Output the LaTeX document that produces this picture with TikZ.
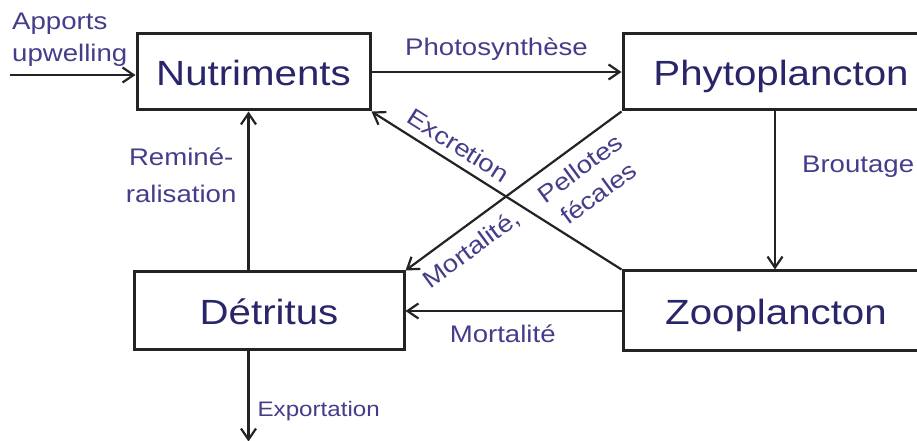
\documentclass[tikz,border=0pt]{standalone}
\usepackage{fontspec}
\setmainfont{Liberation Sans}[FakeStretch=1.15]
\usetikzlibrary{positioning, arrows.meta}
\definecolor{boxtext}{RGB}{40,38,105}
\definecolor{flowtext}{RGB}{68,62,138}
\definecolor{linegray}{RGB}{35,35,35}

\begin{document}
\begin{tikzpicture}[x=1pt, y=1pt,
    box/.style={draw=linegray, line width=3pt, inner sep=0pt, minimum height=76pt,
        text height=27pt, text depth=0pt, text=boxtext, font=\fontsize{35}{42}\selectfont},
    flow/.style={draw=linegray, line width=2.2pt, -{Straight Barb[length=11pt,width=15pt]}},
    flowlabel/.style={text=flowtext, inner sep=2pt, font=\fontsize{24}{30}\selectfont}]
    \path[use as bounding box, fill=white] (0,0) rectangle (917,441);
    \clip (0,0) rectangle (917,441);

    \node[box, minimum width=233pt] (nutri) at (253.5,369) {Nutriments};
    \node[box, minimum width=316pt, right=250pt of nutri] (phyto) {Phytoplancton};
    \node[box, minimum width=306pt, minimum height=80pt, below=158pt of phyto.south west, anchor=north west] (zoo) {Zooplancton};
    \node[box, minimum width=270pt, minimum height=78pt, left=216pt of zoo] (detritus) {Détritus};

    \coordinate (upwelling) at (10,366);
    \coordinate (trunk) at ([xshift=-5pt]nutri.south);
    \coordinate (export) at ([yshift=-90pt]trunk |- detritus.south);

    \draw[flow] (upwelling) -- (upwelling -| nutri.west);
    \node[flowlabel, align=left, above right=6pt and 0pt of upwelling] (apports) {Apports\\[2pt]upwelling};

    \draw[flow] (nutri.east) -- node[flowlabel, above=8pt] (photo) {Photosynthèse} (phyto.west);
    \draw[flow] ([xshift=-6pt]phyto.south) -- node[flowlabel, pos=0.35, right=24pt] (graze) {Broutage} ([xshift=-6pt]phyto.south |- zoo.north);
    \draw[flow] (zoo.west) -- node[flowlabel, pos=0.55, below=11pt] (mort) {Mortalité} (detritus.east);
    \draw[flow] (trunk |- detritus.north) -- node[flowlabel, pos=0.6, left=9pt, align=center] (remin) {Reminé-\\[7pt]ralisation} (trunk);
    \draw[flow] (trunk |- detritus.south) -- node[flowlabel, pos=0.66, right=6pt, font=\fontsize{21}{26}\selectfont] (exp) {Exportation} (export);

    \draw[flow] (zoo.north west) -- node[flowlabel, pos=0.69, sloped, above=6pt] (excr) {Excretion} (nutri.south east);
    \draw[flow] (phyto.south west) -- node[flowlabel, pos=0.25, sloped, below=9pt, align=center] (pellets) {Pellotes\\[1pt]fécales}
        node[flowlabel, pos=0.756, sloped, below=9pt] (mortal) {Mortalité,} (detritus.north east);
\end{tikzpicture}
\end{document}
